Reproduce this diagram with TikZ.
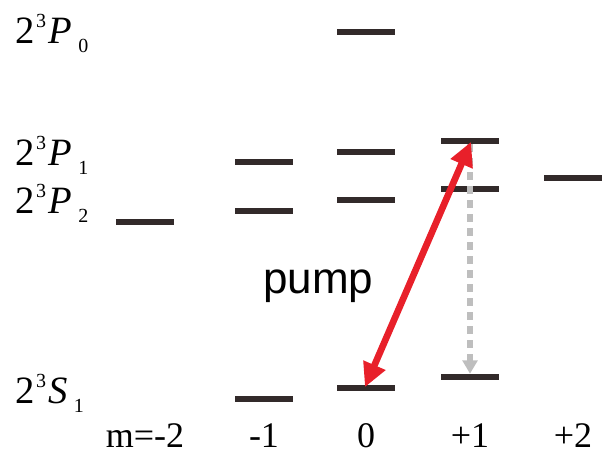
\documentclass[tikz,border=0pt]{standalone}
\usepackage{fontspec}
\setmainfont{Liberation Serif}
\newfontfamily\pumpfont{Liberation Sans}
\usetikzlibrary{arrows.meta}

\definecolor{levelgray}{RGB}{50,42,42}
\definecolor{pumpred}{RGB}{232,32,42}
\definecolor{decaygray}{RGB}{190,190,190}

% term symbol 2^3 L_J
\newcommand{\termsym}[2]{2\hspace{0.04em}\raisebox{0.4em}{\fontsize{15}{15}\selectfont 3}\hspace{0.06em}\textit{#1}\hspace{0.16em}\raisebox{-0.24em}{\fontsize{15}{15}\selectfont #2}}

\tikzset{
  level/.style={fill=levelgray, inner sep=0pt, minimum width=44pt, minimum height=4.5pt},
  term/.style={anchor=base west, inner sep=0pt, font=\fontsize{29}{29}\selectfont},
  mlabel/.style={anchor=base, inner sep=0pt, font=\fontsize{27}{27}\selectfont},
  pump/.style={pumpred, line width=5pt, {Triangle[length=18pt,width=17pt]}-{Triangle[length=18pt,width=17pt]}, shorten <=-2pt, shorten >=-2pt},
  decay/.style={decaygray, line width=3.8pt, dash pattern=on 6pt off 4.5pt, -{Triangle[length=10pt,width=11pt]}}
}

\begin{document}
\begin{tikzpicture}[x=0.75pt,y=-0.75pt]
\useasboundingbox (0,0) rectangle (602,454);

% term labels
\node[term] (lP0) at (15,43) {\termsym{P}{0}};
\node[term] (lP1) at (15,165) {\termsym{P}{1}};
\node[term] (lP2) at (15,213) {\termsym{P}{2}};
\node[term] (lS1) at (15,403) {\termsym{S}{1}};

% sublevels, columns m=-2..+2
\node[level] (p2m2) at (145,222) {};
\node[level] (p1m1) at (264,162) {};
\node[level] (p2m1) at (264,211) {};
\node[level] (s1m1) at (264,399) {};
\node[level] (p0z)  at (366,32) {};
\node[level] (p1z)  at (366,152) {};
\node[level] (p2z)  at (366,200) {};
\node[level] (s1z)  at (366,388) {};
\node[level] (p1p1) at (470,141) {};
\node[level] (p2p1) at (470,189) {};
\node[level] (s1p1) at (470,377) {};
\node[level] (p2p2) at (573,178) {};

% transitions
\draw[decay] (p1p1.south) -- (s1p1.north);
\draw[pump] (s1z.north) -- (p1p1.south);
\node[anchor=base west, inner sep=0pt, font=\pumpfont\fontsize{33}{33}\selectfont] (pumplbl) at (263,293) {pump};

% magnetic quantum numbers
\node[mlabel] (m1) at (145,447) {m=-2};
\node[mlabel] (m2) at (264,447) {-1};
\node[mlabel] (m3) at (366,447) {0};
\node[mlabel] (m4) at (470,447) {+1};
\node[mlabel] (m5) at (573,447) {+2};
\end{tikzpicture}
\end{document}
